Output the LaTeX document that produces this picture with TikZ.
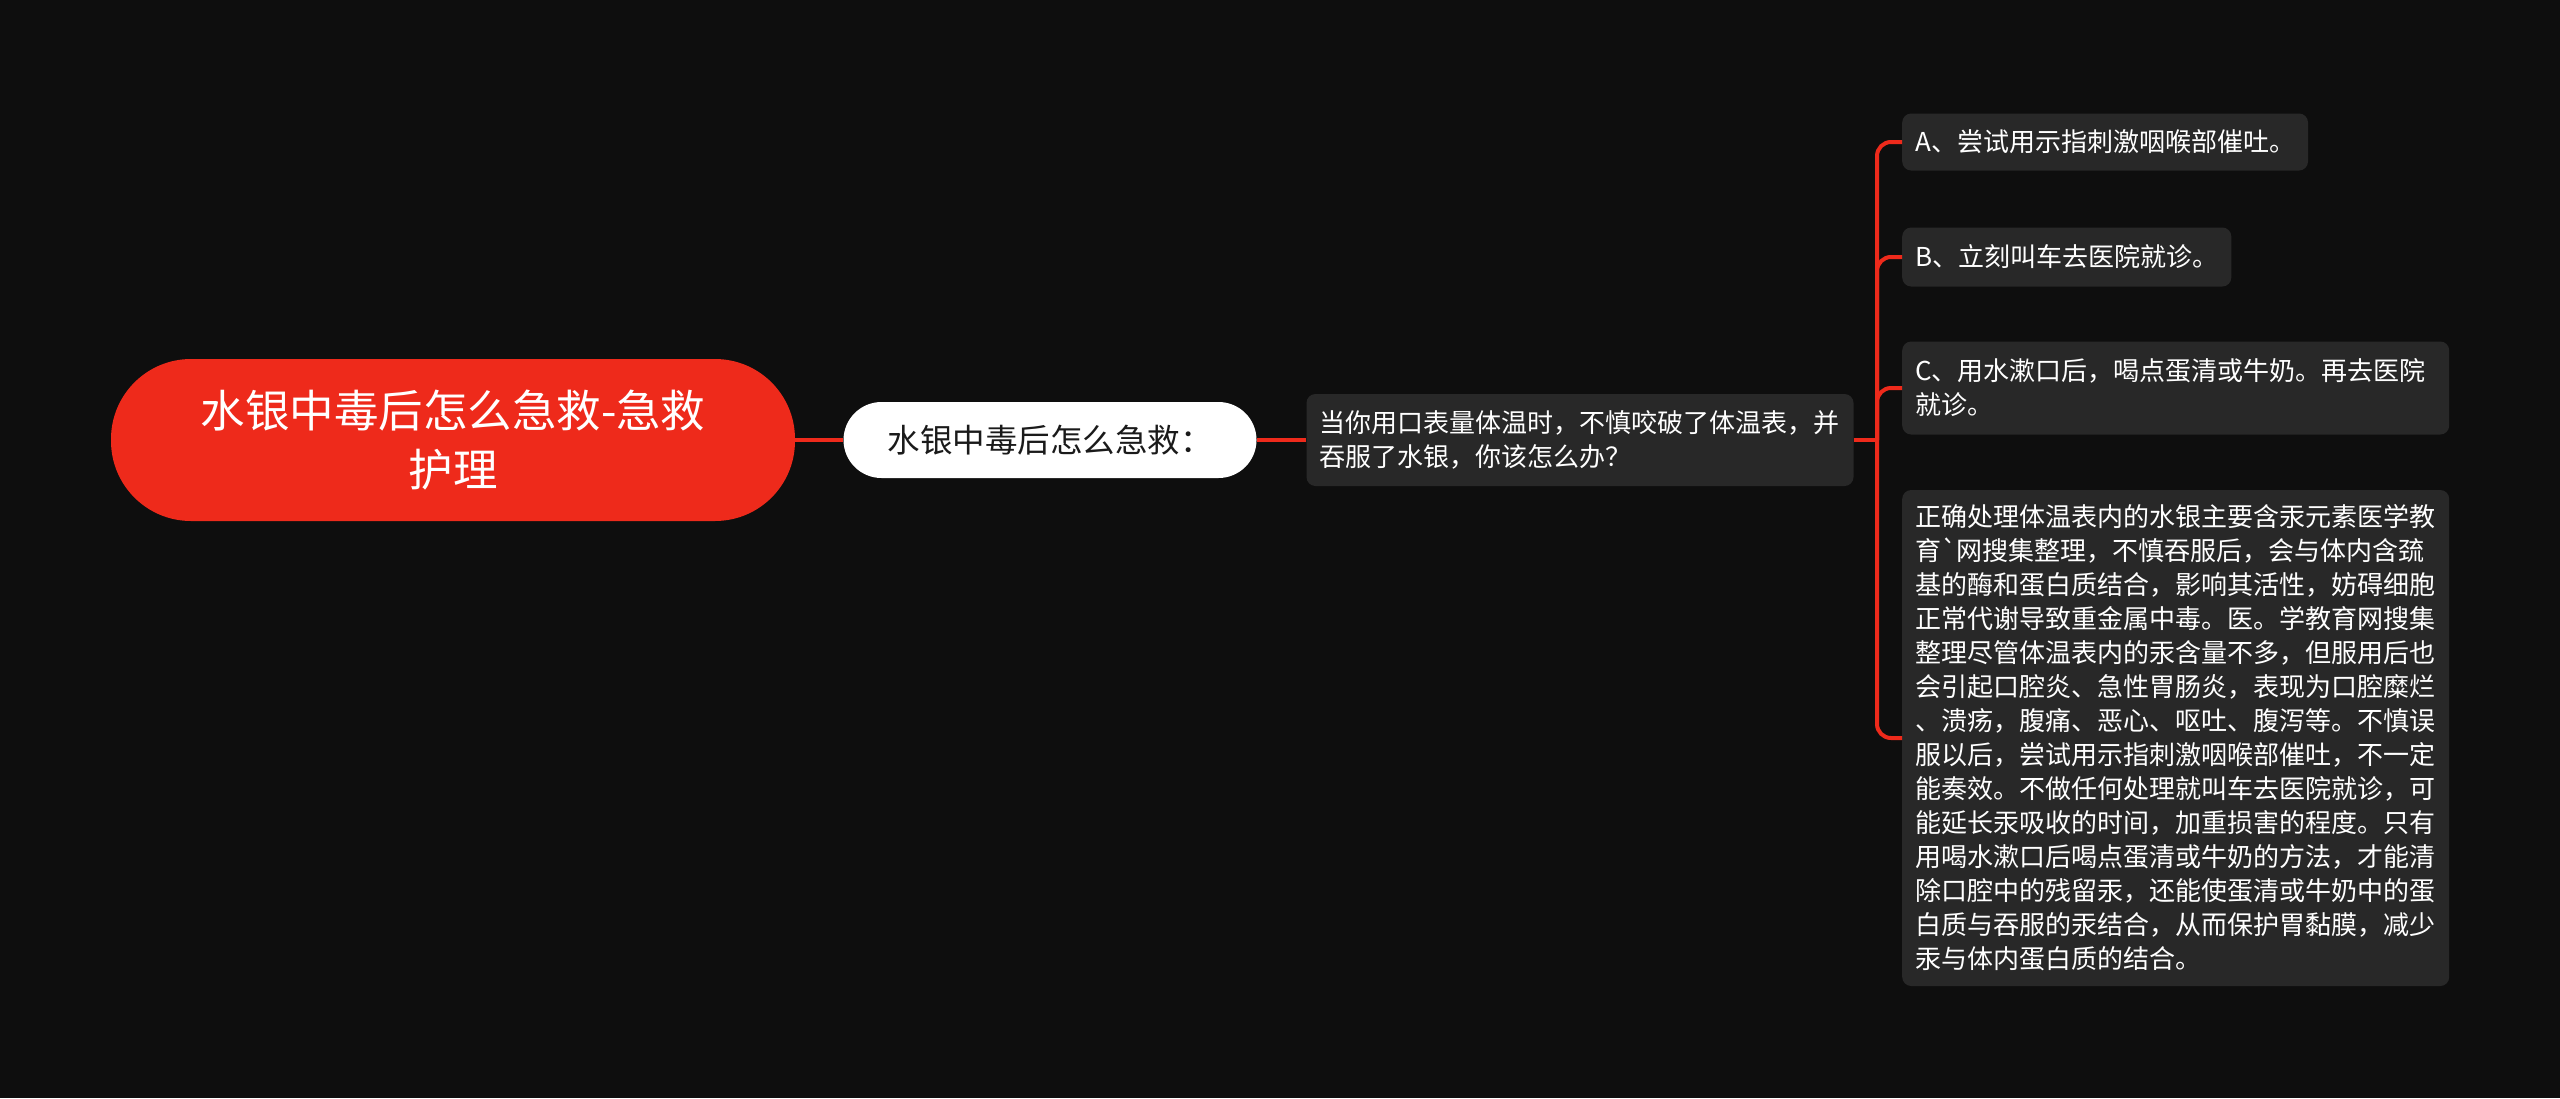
\documentclass[tikz,border=0pt]{standalone}
\usepackage{fontspec}
\newfontfamily\cjk{Noto Sans CJK SC}
\usetikzlibrary{positioning}

\definecolor{bgdark}{HTML}{0E0E0E}
\definecolor{boxgray}{HTML}{282828}
\definecolor{mapred}{HTML}{EE2A1B}
\definecolor{inkdark}{HTML}{1A1A1A}

\tikzset{
  rootnode/.style={fill=mapred, text=white, rounded corners=80pt, align=center,
    minimum width=684pt, minimum height=162pt, font=\cjk\fontsize{44.5}{59}\selectfont},
  topicnode/.style={fill=white, text=inkdark, rounded corners=38pt,
    minimum width=413pt, minimum height=76pt, font=\cjk\fontsize{32.5}{38}\selectfont},
  leafnode/.style={fill=boxgray, text=white, rounded corners=9pt, align=left,
    inner xsep=13pt, inner ysep=13pt, font=\cjk\fontsize{26}{34}\selectfont},
  link/.style={draw=mapred, line width=4pt},
}

\begin{document}
\begin{tikzpicture}[x=1pt,y=-1pt]
  % background
  \fill[bgdark] (0,0) rectangle (2560,1098);
  \useasboundingbox (0,0) rectangle (2560,1098);

  % root and first levels
  \node[rootnode] (root) at (453,440) {水银中毒后怎么急救-急救\\护理};
  \node[topicnode] (topic) at (1050,440) {水银中毒后怎么急救：};
  \node[leafnode, text width=521pt, minimum height=92pt] (question) at (1580,440)
    {当你用口表量体温时，不慎咬破了体温表，并\\吞服了水银，你该怎么办？};

  % answers
  \node[leafnode, anchor=west, minimum height=57pt] (ansa) at (1902,142)
    {A、尝试用示指刺激咽喉部催吐。};
  \node[leafnode, anchor=west, minimum height=59pt] (ansb) at (1902,257)
    {B、立刻叫车去医院就诊。};
  \node[leafnode, anchor=west, text width=521pt, minimum height=93pt] (ansc) at (1902,388)
    {C、用水漱口后，喝点蛋清或牛奶。再去医院\\就诊。};
  \node[leafnode, anchor=west, text width=521pt, minimum height=496pt] (ansd) at (1902,738)
    {正确处理体温表内的水银主要含汞元素医学教\\
     育`网搜集整理，不慎吞服后，会与体内含巯\\
     基的酶和蛋白质结合，影响其活性，妨碍细胞\\
     正常代谢导致重金属中毒。医。学教育网搜集\\
     整理尽管体温表内的汞含量不多，但服用后也\\
     会引起口腔炎、急性胃肠炎，表现为口腔糜烂\\
     、溃疡，腹痛、恶心、呕吐、腹泻等。不慎误\\
     服以后，尝试用示指刺激咽喉部催吐，不一定\\
     能奏效。不做任何处理就叫车去医院就诊，可\\
     能延长汞吸收的时间，加重损害的程度。只有\\
     用喝水漱口后喝点蛋清或牛奶的方法，才能清\\
     除口腔中的残留汞，还能使蛋清或牛奶中的蛋\\
     白质与吞服的汞结合，从而保护胃黏膜，减少\\
     汞与体内蛋白质的结合。};

  % connectors
  \draw[link] (root.east) -- (topic.west);
  \draw[link] (topic.east) -- (question.west);
  \coordinate (fork) at (1877,440);
  \draw[link] (question.east) -- (fork);
  \foreach \ans in {ansa,ansb,ansc,ansd}
    \draw[link, rounded corners=14pt] (fork) |- (\ans.west);
\end{tikzpicture}
\end{document}
